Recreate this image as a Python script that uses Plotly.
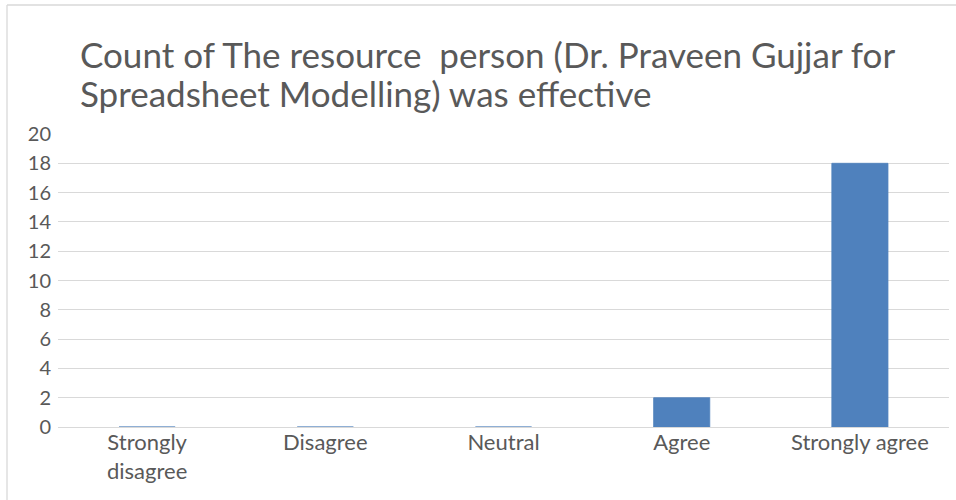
import plotly.graph_objects as go

categories = ["Strongly<br>disagree", "Disagree", "Neutral", "Agree", "Strongly agree"]
counts = [0, 0, 0, 2, 18]
y_ticks = [0, 2, 4, 6, 8, 10, 12, 14, 16, 18, 20]
title_lines = ["Count of The resource  person (Dr. Praveen Gujjar for",
               "Spreadsheet Modelling) was effective"]

W, H = 956, 500
L, R, T, B = 58, 7, 134, 73
pw = W - L - R
ph = H - T - B


def px_x(x):
    return (x - L) / pw


def px_y(y):
    return (H - B - y) / ph


fig = go.Figure(go.Bar(
    x=categories, y=counts,
    marker=dict(color="#4f81bd", line=dict(color="#4f81bd", width=0.8)),
))

title_font = dict(size=35, color="#595959", family="Lato, Carlito, sans-serif")
annotations = [
    dict(text=title_lines[0], xref="paper", yref="paper", x=px_x(78), y=px_y(54),
         xanchor="left", yanchor="middle", showarrow=False, font=title_font),
    dict(text=title_lines[1], xref="paper", yref="paper", x=px_x(78), y=px_y(93),
         xanchor="left", yanchor="middle", showarrow=False, font=title_font),
]

fig.update_layout(
    width=W, height=H,
    margin=dict(l=L, r=R, t=T, b=B, pad=0, autoexpand=False),
    paper_bgcolor="white", plot_bgcolor="white",
    bargap=0.685,
    showlegend=False,
    font=dict(family="Lato, Carlito, sans-serif", color="#595959", size=18),
    annotations=annotations,
    xaxis=dict(showgrid=False, zeroline=False, showline=False, ticks="", automargin=False,
               tickfont=dict(size=22, color="#595959")),
    yaxis=dict(range=[0, 20], tickvals=y_ticks, showgrid=True, gridcolor="#d9d9d9",
               gridwidth=1.3, zeroline=True, zerolinecolor="#d9d9d9", zerolinewidth=1.3,
               showline=False, ticks="", ticklabelstandoff=6, automargin=False,
               tickfont=dict(size=20, color="#595959")),
    shapes=[
        dict(type="line", xref="paper", yref="paper", x0=px_x(7), x1=px_x(W + 5),
             y0=px_y(5), y1=px_y(5), line=dict(color="#d9d9d9", width=1.3), layer="below"),
        dict(type="line", xref="paper", yref="paper", x0=px_x(7), x1=px_x(7),
             y0=px_y(5), y1=px_y(H + 5), line=dict(color="#d9d9d9", width=1.3), layer="below"),
    ],
)

fig.write_html("out.html", config={"displayModeBar": False},
               post_script="document.body.style.margin='0';document.body.style.overflow='hidden';")
